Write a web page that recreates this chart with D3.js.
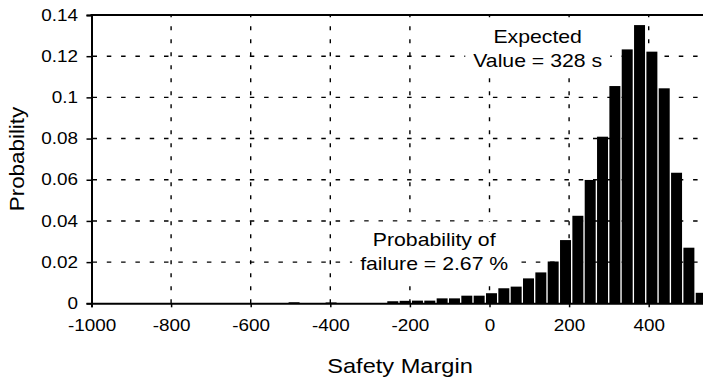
<!DOCTYPE html>
<html>
<head>
<meta charset="utf-8">
<script src="https://d3js.org/d3.v7.min.js"></script>
<style>
  body { margin: 0; background: #fff; }
  svg { display: block; font-family: "Liberation Sans", Arial, sans-serif; }
</style>
</head>
<body>
<div id="chart"></div>
<script>
// histogram bins (safety margin, s) and their probabilities
var binCenters = [-491, -398, -243, -212, -181, -150, -119, -88, -57, -26, 5, 36, 67, 98,
                  129, 160, 191, 222, 253, 284, 315, 346, 377, 408, 439, 470, 501, 532];
var probs = [0.0005, 0.0004, 0.0010, 0.0012, 0.0013, 0.0013, 0.0024, 0.0024, 0.0037, 0.0037,
             0.0049, 0.0073, 0.0081, 0.0121, 0.0150, 0.0203, 0.0307, 0.0425, 0.0599, 0.0809,
             0.1055, 0.1233, 0.1351, 0.1222, 0.1044, 0.0634, 0.0270, 0.0051];
var xTicks = [-1000, -800, -600, -400, -200, 0, 200, 400];
var yTicks = [0, 0.02, 0.04, 0.06, 0.08, 0.1, 0.12, 0.14];
var notes = [
  {lines: ["Expected", "Value = 328 s"], x: 121, y: 0.1262},
  {lines: ["Probability of", "failure = 2.67 %"], x: -139, y: 0.0278}
];

var width = 703, height = 379;
var svg = d3.select("#chart").append("svg")
    .attr("width", width)
    .attr("height", height);

var x = d3.scaleLinear().domain([-1000, 600]).range([91.5, 91.5 + 1600 * 0.398]);
var y = d3.scaleLinear().domain([0, 0.14]).range([303.3, 15]);
var sx = 1.18; // source font is wider than Liberation Sans

// gridlines
svg.append("g").selectAll("line")
    .data(yTicks.filter(d => d > 0 && d < 0.14))
    .enter().append("line")
    .attr("x1", x(-1000)).attr("x2", width)
    .attr("y1", d => y(d)).attr("y2", d => y(d))
    .attr("stroke", "#000").attr("stroke-width", 1.4)
    .attr("stroke-dasharray", "4.5,9.8").attr("stroke-dashoffset", -1);

svg.append("g").selectAll("line")
    .data(xTicks.filter(d => d > -1000))
    .enter().append("line")
    .attr("x1", d => x(d)).attr("x2", d => x(d))
    .attr("y1", y(0)).attr("y2", y(0.14))
    .attr("stroke", "#000").attr("stroke-width", 1.4)
    .attr("stroke-dasharray", "4,9");

// annotations with white boxes
notes.forEach(function(n) {
  var g = svg.append("g");
  var t = g.append("text")
      .attr("text-anchor", "middle")
      .attr("font-size", 18)
      .attr("transform", "translate(" + x(n.x) + "," + y(n.y) + ") scale(" + sx + ",1)");
  t.selectAll("tspan").data(n.lines).enter().append("tspan")
      .attr("x", 0).attr("dy", (d, i) => i ? 24 : 0)
      .text(d => d);
  var b = t.node().getBBox();
  g.insert("rect", "text")
      .attr("x", x(n.x) + b.x * sx - 8)
      .attr("y", y(n.y) + b.y - 8)
      .attr("width", b.width * sx + 16)
      .attr("height", b.height + 14)
      .attr("fill", "#fff");
});

// bars
var pitch = x(binCenters[3]) - x(binCenters[2]);
var bw = pitch * 0.89;
svg.append("g").selectAll("rect")
    .data(binCenters)
    .enter().append("rect")
    .attr("x", d => x(d) - bw / 2)
    .attr("y", (d, i) => y(probs[i]))
    .attr("width", bw)
    .attr("height", (d, i) => y(0) - y(probs[i]))
    .attr("fill", "#000");

// axes
var xAxis = svg.append("g")
    .attr("transform", "translate(0," + y(0) + ")")
    .call(d3.axisBottom(x).tickValues(xTicks).tickFormat(d => String(d))
      .tickSizeOuter(0).tickSize(4).tickPadding(12));
xAxis.selectAll("text")
    .attr("font-size", 16).attr("fill", "#000")
    .attr("transform", "scale(" + sx + ",1)");

var yAxis = svg.append("g")
    .attr("transform", "translate(" + x(-1000) + ",0)")
    .call(d3.axisLeft(y).tickValues(yTicks).tickFormat(d => String(+d.toFixed(2)))
      .tickSizeOuter(0).tickSize(5));
yAxis.selectAll("text")
    .attr("font-size", 16).attr("fill", "#000")
    .attr("x", -13.5 / sx)
    .attr("transform", "scale(" + sx + ",1)");

svg.selectAll(".domain").attr("stroke", "#000").attr("stroke-width", 2);
svg.selectAll(".tick line").attr("stroke", "#000").attr("stroke-width", 1.5);

// top border
svg.append("line")
    .attr("x1", x(-1000) - 1).attr("x2", width)
    .attr("y1", y(0.14)).attr("y2", y(0.14))
    .attr("stroke", "#000").attr("stroke-width", 2.2);

// axis titles
svg.append("text")
    .attr("text-anchor", "middle")
    .attr("font-size", 20)
    .attr("transform", "translate(400,373) scale(" + sx + ",1)")
    .text("Safety Margin");

svg.append("text")
    .attr("text-anchor", "middle")
    .attr("font-size", 20)
    .attr("transform", "translate(24,159) rotate(-90) scale(1.12,1)")
    .text("Probability");
</script>
</body>
</html>
